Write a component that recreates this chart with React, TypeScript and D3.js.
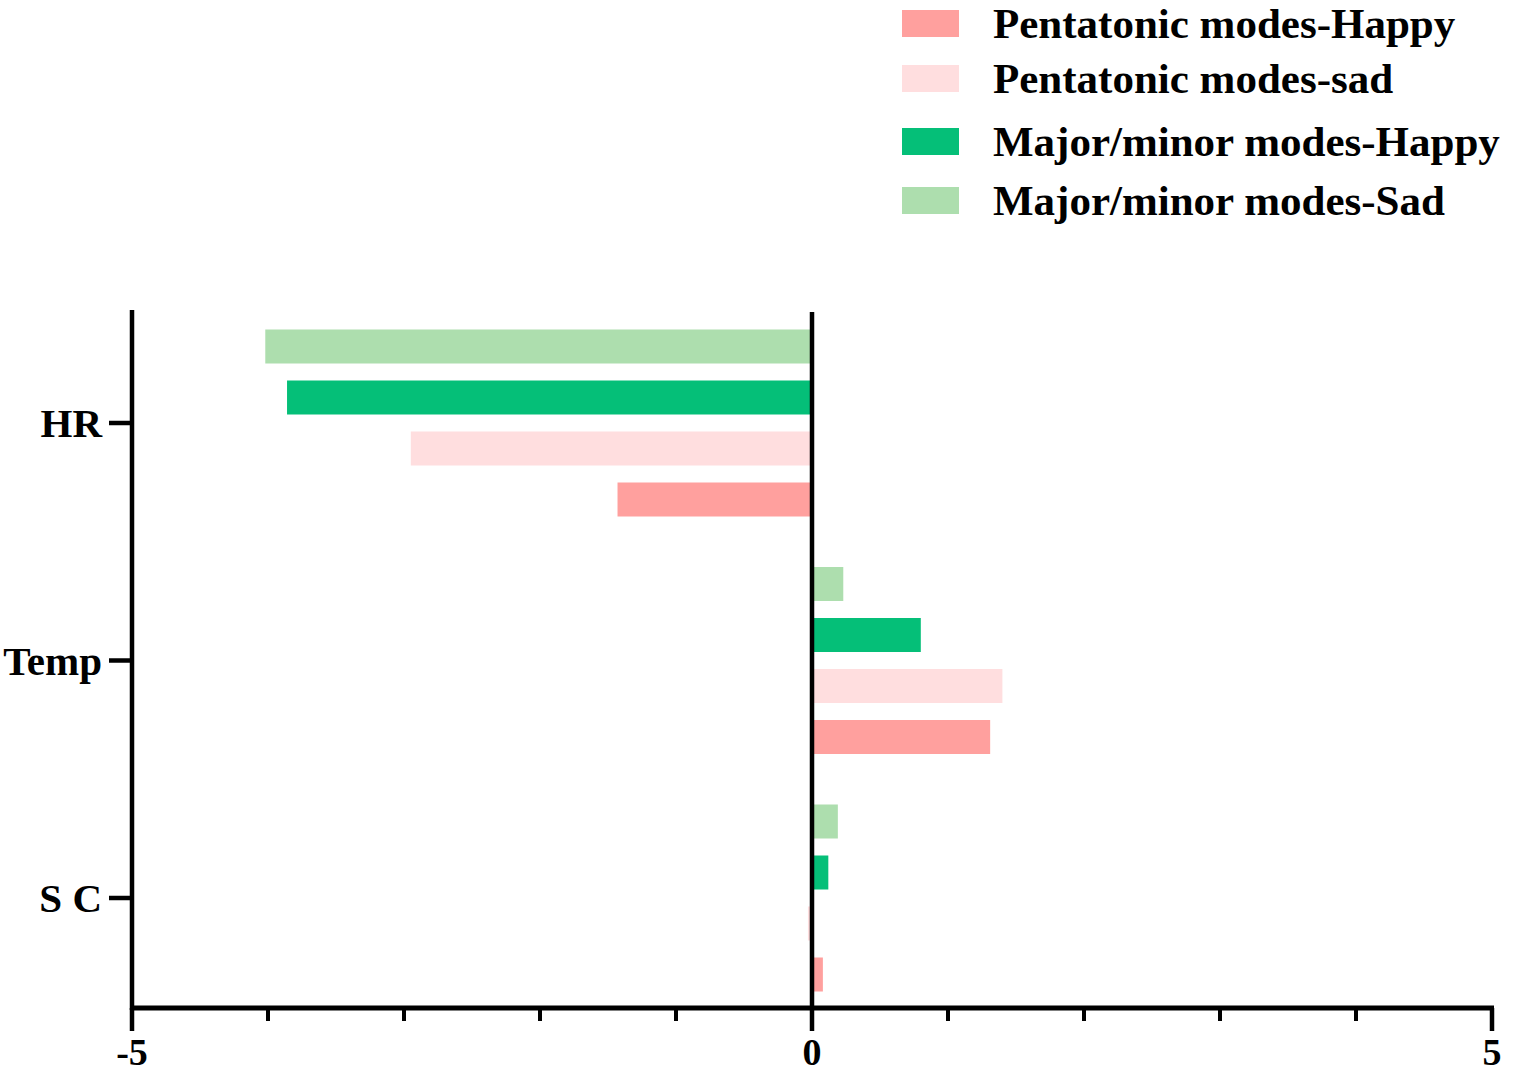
import React from "react";
import * as d3 from "d3";

const categories = ["HR", "Temp", "S C"];
const seriesNames = [
  "Major/minor modes-Sad",
  "Major/minor modes-Happy",
  "Pentatonic modes-sad",
  "Pentatonic modes-Happy",
];
const legendOrder = [
  "Pentatonic modes-Happy",
  "Pentatonic modes-sad",
  "Major/minor modes-Happy",
  "Major/minor modes-Sad",
];
const colors: Record<string, string> = {
  "Pentatonic modes-Happy": "#FFA09E",
  "Pentatonic modes-sad": "#FFDEDF",
  "Major/minor modes-Happy": "#05BF78",
  "Major/minor modes-Sad": "#ADDEAE",
};
const mmSad = [-4.02, 0.23, 0.19];
const mmHappy = [-3.86, 0.8, 0.12];
const pentSad = [-2.95, 1.4, -0.03];
const pentHappy = [-1.43, 1.31, 0.08];
const xTicksMajor = [-5, 0, 5];
const xTicksMinor = [-4, -3, -2, -1, 1, 2, 3, 4];

const valuesBySeries: Record<string, number[]> = {
  "Major/minor modes-Sad": mmSad,
  "Major/minor modes-Happy": mmHappy,
  "Pentatonic modes-sad": pentSad,
  "Pentatonic modes-Happy": pentHappy,
};

export default function App() {
  const W = 1524;
  const H = 1076;
  const x = d3.scaleLinear().domain([-5, 5]).range([132, 1492]);
  const y = d3.scalePoint<string>().domain(categories).range([423, 898]);
  const inner = d3
    .scaleBand<string>()
    .domain(seriesNames)
    .range([-93.5, 93.5])
    .paddingInner(1 / 3);
  const axisTop = 310;
  const axisY = 1008;
  const font = "'Liberation Serif', 'Times New Roman', serif";

  return (
    <svg
      width={W}
      height={H}
      style={{ position: "absolute", left: 0, top: 0, background: "#fff" }}
      fontFamily={font}
      fontWeight="bold"
    >
      {/* bars */}
      {categories.map((c, ci) =>
        seriesNames.map((s) => {
          const v = valuesBySeries[s][ci];
          const x0 = x(Math.min(0, v));
          const x1 = x(Math.max(0, v));
          return (
            <rect
              key={c + s}
              x={x0}
              y={(y(c) as number) + (inner(s) as number)}
              width={x1 - x0}
              height={inner.bandwidth()}
              fill={colors[s]}
            />
          );
        })
      )}
      {/* zero line */}
      <line x1={x(0)} x2={x(0)} y1={axisTop + 2} y2={axisY} stroke="#000" strokeWidth={4.5} />
      {/* y axis */}
      <line x1={x(-5)} x2={x(-5)} y1={axisTop} y2={axisY + 2} stroke="#000" strokeWidth={4.5} />
      {categories.map((c) => (
        <g key={c}>
          <line x1={109} x2={x(-5)} y1={y(c)} y2={y(c)} stroke="#000" strokeWidth={4.5} />
          <text x={102} y={(y(c) as number) + 14} textAnchor="end" fontSize={41}>
            {c}
          </text>
        </g>
      ))}
      {/* x axis */}
      <line x1={x(-5) - 2} x2={x(5) + 2} y1={axisY} y2={axisY} stroke="#000" strokeWidth={5} />
      {xTicksMinor.map((t) => (
        <line key={t} x1={x(t)} x2={x(t)} y1={axisY} y2={1021} stroke="#000" strokeWidth={4} />
      ))}
      {xTicksMajor.map((t) => (
        <g key={t}>
          <line x1={x(t)} x2={x(t)} y1={axisY} y2={1031} stroke="#000" strokeWidth={4.5} />
          <text x={x(t)} y={1065} textAnchor="middle" fontSize={38}>
            {t < 0 ? "-" + Math.abs(t) : String(t)}
          </text>
        </g>
      ))}
      {/* legend */}
      {legendOrder.map((s, i) => {
        const baselines = [38, 93, 156, 215];
        const b = baselines[i];
        return (
          <g key={s}>
            <rect x={902} y={b - 28} width={57} height={27} fill={colors[s]} />
            <text x={993} y={b} fontSize={43}>
              {s}
            </text>
          </g>
        );
      })}
    </svg>
  );
}
